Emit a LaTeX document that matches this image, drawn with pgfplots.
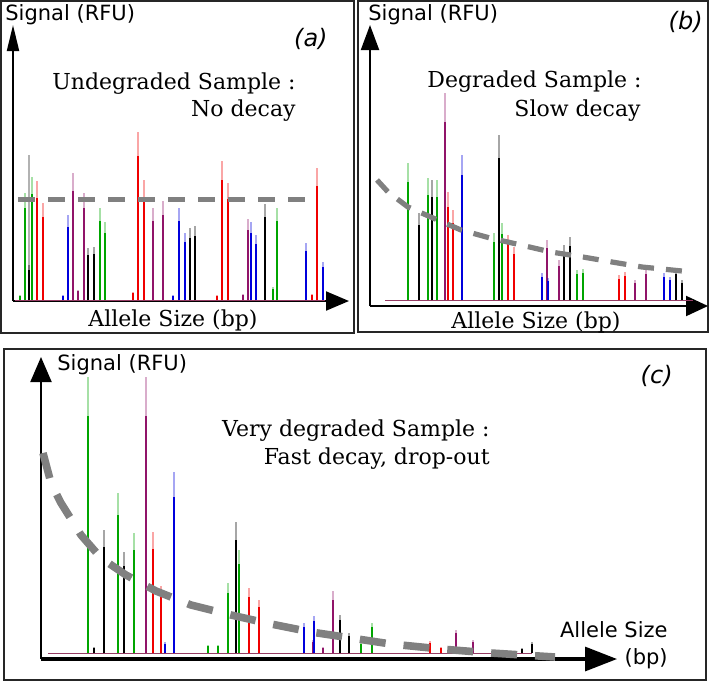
\documentclass[border=0pt]{standalone}
\usepackage{fontspec}
\setmainfont{DejaVu Serif}
\setsansfont{DejaVu Sans}
\usepackage{pgfplots}
\usepackage{pgfplotstable}
\pgfplotsset{compat=1.18}
\usetikzlibrary{arrows.meta}

\definecolor{pgreen}{RGB}{0,165,0}
\definecolor{pred}{RGB}{240,0,0}
\definecolor{pblue}{RGB}{0,0,220}
\definecolor{ppurple}{RGB}{145,20,105}
\definecolor{dgray}{RGB}{128,128,128}
\definecolor{basec}{RGB}{150,60,100}

% panel (a): position, height
\pgfplotstableread{
x y
7 5
12 107
19 123
87 92
92 78
260 13
264 92
}\aG
\pgfplotstableread{
x y
16 35
75 52
81 53
177 72
182 74
252 96
}\aK
\pgfplotstableread{
x y
24 119
30 97
120 8
125 168
131 120
204 5
209 139
215 117
299 6
304 132
}\aR
\pgfplotstableread{
x y
60 127
65 10
71 107
140 92
150 99
230 6
235 81
}\aP
\pgfplotstableread{
x y
50 5
55 85
160 5
166 92
172 67
238 78
243 65
293 57
310 38
}\aB
% panel (b)
\pgfplotstableread{
x y
38 137
58 122
67 120
124 67
132 77
207 30
213 31
}\bG
\pgfplotstableread{
x y
49 87
62 120
129 165
194 55
200 63
306 30
312 20
}\bK
\pgfplotstableread{
x y
78 108
83 90
138 65
144 53
249 25
255 28
}\bR
\pgfplotstableread{
x y
75 207
177 60
189 40
265 20
276 30
}\bP
\pgfplotstableread{
x y
92 145
172 27
178 22
294 27
300 23
}\bB
% panel (c)
\pgfplotstableread{
x y
47 276
77 160
93 120
167 8
177 8
187 70
198 103
320 10
331 30
}\cG
\pgfplotstableread{
x y
53 6
63 123
83 101
195 131
299 38
308 20
481 5
491 11
}\cK
\pgfplotstableread{
x y
112 121
120 67
208 65
218 53
389 12
400 6
}\cR
\pgfplotstableread{
x y
105 276
272 13
282 6
292 62
415 23
432 13
}\cP
\pgfplotstableread{
x y
124 11
133 181
263 30
273 37
}\cB

\pgfplotsset{
  peakaxis/.style={scale only axis, axis lines=left, xtick=\empty, ytick=\empty,
    enlargelimits=false, clip=false, anchor=south west,
    axis line style={line width=1pt, black}},
}
\newcommand\peaks[2]{%
  \addplot[ycomb, line width=0.85pt, color=#2, opacity=0.35] table {#1};
  \addplot[ycomb, line width=0.85pt, color=#2, y filter/.expression={y*0.86}] table {#1};
  \addplot[ycomb, line width=1.3pt, color=#2, y filter/.expression={y*0.2}] table {#1};
}

\begin{document}
\begin{tikzpicture}
\useasboundingbox (0,0) rectangle (355pt,-340.5pt);
\draw[line width=0.6pt, black!85] (0.5pt,-0.5pt) rectangle (177pt,-166.5pt);
\draw[line width=0.6pt, black!85] (179pt,-0.5pt) rectangle (354pt,-166pt);
\draw[line width=0.6pt, black!85] (2pt,-174.5pt) rectangle (353pt,-340pt);

% ---------------- panel (a)
\begin{axis}[peakaxis, at={(6.5pt,-150.5pt)}, width=168pt, height=138pt,
  xmin=0, xmax=336, ymin=-1, ymax=275,
  x axis line style={-{Triangle[length=11.5pt,width=9.5pt]}},
  y axis line style={-{Triangle[length=13pt,width=6pt]}}]
\addplot[color=basec, line width=0.4pt] coordinates {(2,0) (312,0)};
\addplot[ycomb, line width=0.85pt, color=black, opacity=0.3] coordinates {(16,145)};
\peaks{\aG}{pgreen}
\peaks{\aK}{black}
\peaks{\aR}{pred}
\peaks{\aP}{ppurple}
\peaks{\aB}{pblue}
\addplot[color=dgray, line width=2.5pt, dash pattern=on 8.5pt off 6.5pt] coordinates {(5,101) (300,101)};
\end{axis}

% ---------------- panel (b)
\begin{axis}[peakaxis, at={(185pt,-153pt)}, width=169pt, height=140.5pt,
  xmin=0, xmax=338, ymin=-6, ymax=275,
  x axis line style={-{Triangle[length=11pt,width=10pt]}},
  y axis line style={-{Triangle[length=12.5pt,width=9pt]}}]
\addplot[color=basec, line width=0.4pt] coordinates {(15,0) (323,0)};
\peaks{\bG}{pgreen}
\peaks{\bK}{black}
\peaks{\bR}{pred}
\peaks{\bP}{ppurple}
\peaks{\bB}{pblue}
\addplot[color=dgray, line width=2.6pt, dash pattern=on 8pt off 6pt] coordinates {(7,120)(18,108)(38,93)(63,82)(91,70)(120,62)(151,55)(181,48)(213,43)(242,38)(272,33)(312,29)};
\end{axis}

% ---------------- panel (c)
\begin{axis}[peakaxis, at={(20.5pt,-329.5pt)}, width=288pt, height=151pt,
  xmin=0, xmax=576, ymin=-6, ymax=296,
  x axis line style={line width=1.6pt, -{Triangle[length=16pt,width=12pt]}},
  y axis line style={-{Triangle[length=12.5pt,width=10.5pt]}}]
\addplot[color=basec, line width=0.4pt] coordinates {(7,0) (491,0)};
\peaks{\cG}{pgreen}
\peaks{\cK}{black}
\peaks{\cR}{pred}
\peaks{\cP}{ppurple}
\peaks{\cB}{pblue}
\addplot[color=dgray, line width=3.8pt, dash pattern=on 13pt off 9pt] coordinates {(2,200)(10,170)(20,150)(40,118)(60,95)(85,78)(115,62)(150,48)(190,38)(230,29)(270,21)(310,15)(350,9)(400,4)(450,0)(514,-4)};
\end{axis}

% ---------------- texts
\tikzset{sf/.style={inner sep=0, font=\sffamily\fontsize{10.5}{12}\selectfont},
         sr/.style={inner sep=0, font=\fontsize{11}{13}\selectfont},
         lb/.style={inner sep=0, font=\sffamily\itshape\fontsize{12}{14}\selectfont}}
\node[sf, anchor=base west] at (2.5pt,-10.35pt) {Signal (RFU)};
\node[lb, anchor=base east] at (164pt,-23.3pt) {(a)};
\node[sr, anchor=base east] at (148pt,-44.65pt) {Undegraded Sample :};
\node[sr, anchor=base east] at (148pt,-58.35pt) {No decay};
\node[sr, anchor=base] at (86.5pt,-163.35pt) {Allele Size (bp)};

\node[sf, anchor=base west] at (184pt,-10.35pt) {Signal (RFU)};
\node[lb, anchor=base east] at (351.5pt,-14.5pt) {(b)};
\node[sr, anchor=base east] at (321pt,-43.65pt) {Degraded Sample :};
\node[sr, anchor=base east] at (320.5pt,-58pt) {Slow decay};
\node[sr, anchor=base] at (268pt,-164pt) {Allele Size (bp)};

\node[sf, anchor=base west] at (28.5pt,-185.35pt) {Signal (RFU)};
\node[lb, anchor=base east] at (336.5pt,-191.5pt) {(c)};
\node[sr, anchor=base east] at (245pt,-218.35pt) {Very degraded Sample :};
\node[sr, anchor=base east] at (245pt,-232pt) {Fast decay, drop-out};
\node[sf, anchor=base east] at (334pt,-318.85pt) {Allele Size};
\node[sf, anchor=base east] at (334pt,-332pt) {(bp)};
\end{tikzpicture}
\end{document}
